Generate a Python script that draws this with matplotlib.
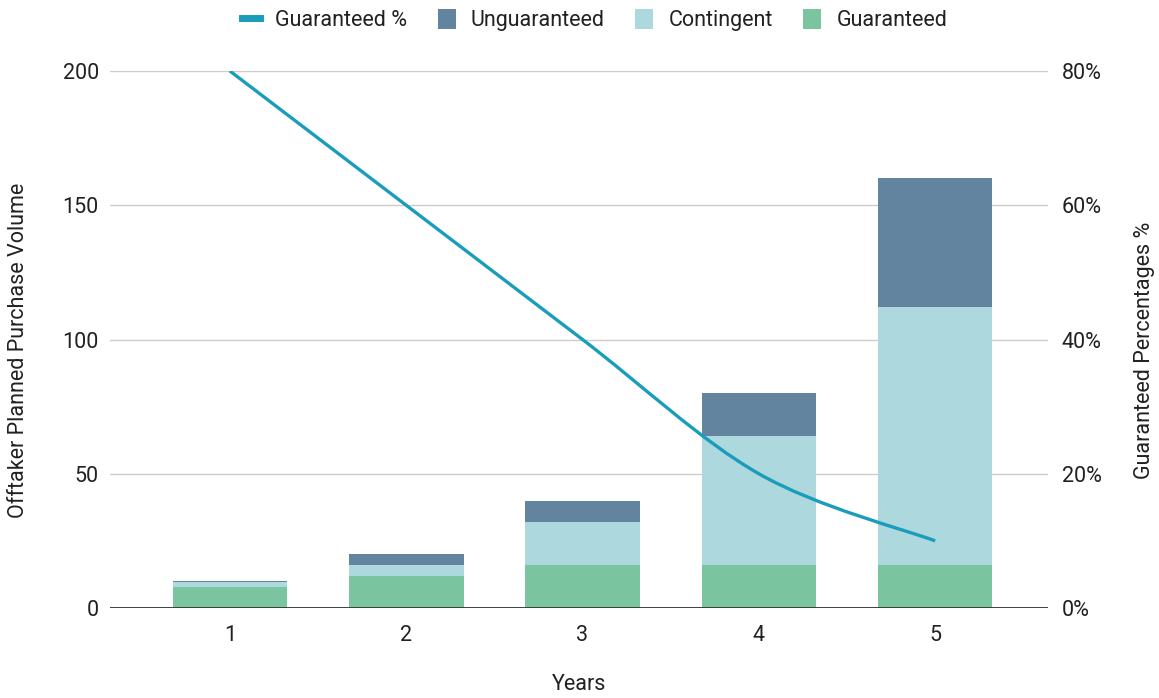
import matplotlib.pyplot as plt
import numpy as np
from matplotlib.path import Path
from matplotlib.patches import PathPatch, Patch
from matplotlib.lines import Line2D

plt.rcParams['font.family'] = ['Roboto', 'DejaVu Sans']

years = [1, 2, 3, 4, 5]
guaranteed = [8, 12, 16, 16, 16]
contingent = [1.5, 4, 16, 48, 96]
unguaranteed = [0.5, 4, 8, 16, 48]
guaranteed_pct = [80, 60, 40, 20, 10]

c_ung = '#62849e'
c_con = '#acd8de'
c_gua = '#7bc4a0'
c_line = '#1a9dbb'
txt = '#212121'
fs = 15.5

fig = plt.figure(figsize=(11.59, 6.98), dpi=100)
ax = fig.add_axes([110 / 1159, 90 / 698, 938 / 1159, 537 / 698])
ax2 = ax.twinx()

x = np.array(years, dtype=float)
w = 0.65
g = np.array(guaranteed)
c = np.array(contingent)
u = np.array(unguaranteed)
ax.bar(x, g, w, color=c_gua, zorder=2)
ax.bar(x, c, w, bottom=g, color=c_con, zorder=2)
ax.bar(x, u, w, bottom=g + c, color=c_ung, zorder=2)

ax.set_ylim(0, 200)
ax.set_xlim(0.32, 5.64)
ax.set_yticks([0, 50, 100, 150, 200])
ax.set_xticks(years)
ax.yaxis.grid(True, color='#cccccc', linewidth=1, zorder=0)
ax.set_axisbelow(True)
ax.axhline(0, color='#333333', linewidth=1.3, zorder=3)
for s in ax.spines.values():
    s.set_visible(False)
for s in ax2.spines.values():
    s.set_visible(False)
ax.tick_params(axis='both', length=0, labelsize=fs, colors=txt, pad=8)
ax.tick_params(axis='x', pad=12)
ax.set_ylabel('Offtaker Planned Purchase Volume', fontsize=fs, color=txt)
ax.yaxis.set_label_coords(-0.098, 0.48)
ax.set_xlabel('Years', fontsize=fs, color=txt)
ax.xaxis.set_label_coords(0.5, -0.143)
ax.xaxis.label.set_va('center')
ax.yaxis.label.set_va('center')

# smooth line through the percentage points (Catmull-Rom as bezier)
y = np.array(guaranteed_pct, dtype=float)
pts = np.column_stack([x, y])
verts = [tuple(pts[0])]
codes = [Path.MOVETO]
for i in range(len(pts) - 1):
    p0 = pts[i - 1] if i > 0 else pts[i]
    p1 = pts[i]
    p2 = pts[i + 1]
    p3 = pts[i + 2] if i + 2 < len(pts) else pts[i + 1]
    c1 = p1 + (p2 - p0) / 6
    c2 = p2 - (p3 - p1) / 6
    verts += [tuple(c1), tuple(c2), tuple(p2)]
    codes += [Path.CURVE4] * 3
ax2.add_patch(PathPatch(Path(verts, codes), facecolor='none', edgecolor=c_line,
                        linewidth=2.4, zorder=4, capstyle='butt'))
ax2.set_ylim(0, 80)
ax2.set_yticks([0, 20, 40, 60, 80])
ax2.set_yticklabels(['0%', '20%', '40%', '60%', '80%'])
ax2.tick_params(axis='y', length=0, labelsize=fs, colors=txt, pad=10)
ax2.set_ylabel('Guaranteed Percentages %', fontsize=fs, color=txt)
ax2.yaxis.set_label_coords(1.103, 0.48)
ax2.yaxis.label.set_va('center')

handles = [Line2D([0], [0], color=c_line, linewidth=5),
           Patch(facecolor=c_ung), Patch(facecolor=c_con), Patch(facecolor=c_gua)]
labels = ['Guaranteed %', 'Unguaranteed', 'Contingent', 'Guaranteed']
leg = fig.legend(handles, labels, loc='center', bbox_to_anchor=(0.513, 0.971), ncol=4,
                 frameon=False, fontsize=fs, handlelength=0.85, handleheight=1.0,
                 columnspacing=1.4, handletextpad=0.7)
for t in leg.get_texts():
    t.set_color(txt)

fig.savefig('out.png', dpi=100)
